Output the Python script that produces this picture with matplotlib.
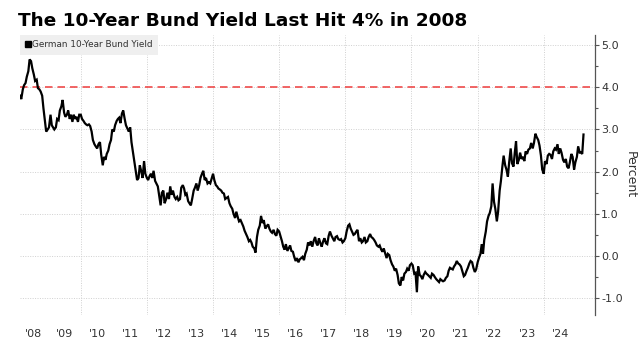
import matplotlib
matplotlib.use("Agg")
import matplotlib.pyplot as plt
import matplotlib.dates as mdates
import pandas as pd
import numpy as np

# German 10-year Bund yield, sampled on the 1st and 15th of each month (percent)
yield_2008 = [3.80, 3.72, 3.95, 4.05, 4.10, 4.25, 4.38, 4.66, 4.62, 4.45,
              4.30, 4.15, 4.18, 3.98, 3.95, 3.90, 3.80, 3.50, 3.20, 2.95]
yield_2009 = [3.00, 3.05, 3.35, 3.10, 3.05, 3.00, 3.05, 3.25, 3.22, 3.45, 3.55, 3.70,
              3.40, 3.30, 3.35, 3.45, 3.25, 3.35, 3.18, 3.35, 3.25, 3.30, 3.18, 3.35]
yield_2010 = [3.35, 3.25, 3.20, 3.15, 3.12, 3.10, 3.12, 3.08, 2.95, 2.75, 2.65, 2.60,
              2.55, 2.65, 2.70, 2.40, 2.15, 2.35, 2.28, 2.42, 2.50, 2.65, 2.75, 3.00]
yield_2011 = [2.95, 3.10, 3.20, 3.25, 3.28, 3.15, 3.38, 3.45, 3.25, 3.10, 3.02, 2.95,
              3.05, 2.70, 2.45, 2.25, 2.00, 1.80, 1.85, 2.15, 2.00, 1.85, 2.25, 1.95]
yield_2012 = [1.85, 1.80, 1.90, 1.95, 1.85, 2.02, 1.78, 1.72, 1.65, 1.45, 1.20, 1.50,
              1.55, 1.25, 1.35, 1.50, 1.35, 1.65, 1.45, 1.55, 1.40, 1.35, 1.40, 1.32]
yield_2013 = [1.35, 1.62, 1.68, 1.60, 1.45, 1.48, 1.30, 1.25, 1.20, 1.35, 1.55, 1.62,
              1.72, 1.55, 1.68, 1.85, 1.95, 2.02, 1.80, 1.85, 1.72, 1.75, 1.72, 1.82]
yield_2014 = [1.95, 1.80, 1.68, 1.65, 1.60, 1.58, 1.55, 1.50, 1.48, 1.35, 1.38, 1.40,
              1.25, 1.18, 1.12, 1.00, 0.90, 1.05, 0.92, 0.82, 0.85, 0.78, 0.70, 0.60]
yield_2015 = [0.52, 0.45, 0.35, 0.38, 0.32, 0.22, 0.18, 0.08, 0.45, 0.62, 0.72, 0.95,
              0.78, 0.85, 0.65, 0.70, 0.75, 0.65, 0.58, 0.55, 0.62, 0.52, 0.48, 0.62]
yield_2016 = [0.58, 0.48, 0.35, 0.22, 0.15, 0.28, 0.12, 0.18, 0.25, 0.12, 0.10, -0.02,
              -0.12, -0.05, -0.15, -0.08, -0.05, -0.02, -0.10, 0.05, 0.15, 0.32, 0.25, 0.35]
yield_2017 = [0.22, 0.35, 0.45, 0.30, 0.25, 0.42, 0.30, 0.22, 0.35, 0.42, 0.30, 0.28,
              0.48, 0.58, 0.48, 0.42, 0.35, 0.45, 0.47, 0.40, 0.38, 0.40, 0.32, 0.35]
yield_2018 = [0.42, 0.58, 0.72, 0.75, 0.65, 0.58, 0.50, 0.52, 0.58, 0.62, 0.35, 0.42,
              0.32, 0.35, 0.45, 0.32, 0.35, 0.45, 0.52, 0.45, 0.42, 0.38, 0.32, 0.25]
yield_2019 = [0.22, 0.25, 0.15, 0.10, 0.18, 0.08, -0.05, 0.05, 0.02, -0.10, -0.20, -0.25,
              -0.35, -0.30, -0.45, -0.65, -0.70, -0.50, -0.58, -0.42, -0.38, -0.30, -0.35, -0.22]
yield_2020 = [-0.18, -0.22, -0.42, -0.40, -0.86, -0.25, -0.45, -0.48, -0.55, -0.45, -0.38, -0.42,
              -0.45, -0.48, -0.52, -0.42, -0.45, -0.50, -0.55, -0.58, -0.62, -0.55, -0.58, -0.60]
yield_2021 = [-0.58, -0.52, -0.48, -0.35, -0.28, -0.30, -0.32, -0.25, -0.20, -0.12, -0.18, -0.20,
              -0.25, -0.35, -0.48, -0.45, -0.35, -0.28, -0.18, -0.12, -0.15, -0.28, -0.38, -0.32]
yield_2022 = [-0.15, -0.05, 0.05, 0.28, 0.05, 0.38, 0.58, 0.82, 0.95, 1.02, 1.18, 1.72,
              1.28, 1.12, 0.82, 1.05, 1.55, 1.78, 2.12, 2.38, 2.15, 2.05, 1.88, 2.22]
yield_2023 = [2.55, 2.20, 2.12, 2.45, 2.72, 2.18, 2.28, 2.45, 2.30, 2.35, 2.25, 2.48,
              2.42, 2.52, 2.55, 2.68, 2.55, 2.68, 2.90, 2.82, 2.75, 2.62, 2.38, 2.05]
yield_2024 = [1.95, 2.25, 2.18, 2.38, 2.42, 2.40, 2.30, 2.48, 2.55, 2.52, 2.65, 2.42,
              2.55, 2.45, 2.28, 2.22, 2.30, 2.12, 2.08, 2.22, 2.42, 2.35, 2.05, 2.22]
yield_2025 = [2.35, 2.60, 2.45, 2.45, 2.42, 2.88]

yields = (yield_2008 + yield_2009 + yield_2010 + yield_2011 + yield_2012 + yield_2013
          + yield_2014 + yield_2015 + yield_2016 + yield_2017 + yield_2018 + yield_2019
          + yield_2020 + yield_2021 + yield_2022 + yield_2023 + yield_2024 + yield_2025)
dates = pd.date_range("2008-03-01", periods=len(yields), freq="SMS")

year_labels = ["'08", "'09", "'10", "'11", "'12", "'13", "'14", "'15", "'16",
               "'17", "'18", "'19", "'20", "'21", "'22", "'23", "'24"]
threshold = 4.0
series_name = "German 10-Year Bund Yield"
title_text = "The 10-Year Bund Yield Last Hit 4% in 2008"

fig = plt.figure(figsize=(6.4, 3.41), dpi=100)
ax = fig.add_axes([20 / 640, 1 - 315 / 341, 575 / 640, 280 / 341])

x = mdates.date2num(dates)
ax.plot(x, yields, color="black", lw=1.6, solid_joinstyle="miter", zorder=3)
ax.axhline(threshold, color="#ef4b4b", lw=1.2, ls=(0, (4.5, 3)), zorder=2)

xmin = x[0]
xmax = mdates.date2num(pd.Timestamp("2025-07-20"))
ax.set_xlim(xmin, xmax)
ax.set_ylim(-1.4, 5.24)

# year labels at mid-year, the first one centred on its visible part
first_year_end = mdates.date2num(pd.Timestamp("2009-01-01"))
label_pos = [(xmin + first_year_end) / 2] + [
    mdates.date2num(pd.Timestamp(f"{y}-07-01")) for y in range(2009, 2025)]
ax.set_xticks(label_pos)
ax.set_xticklabels(year_labels)
ax.set_xticks([mdates.date2num(pd.Timestamp(f"{y}-01-01")) for y in range(2010, 2025, 2)],
              minor=True)
ax.tick_params(axis="x", which="both", length=0, pad=10, labelsize=8, labelcolor="#333333")

ax.yaxis.tick_right()
ax.yaxis.set_label_position("right")
ax.set_yticks(np.arange(-1, 5.01, 1))
ax.set_yticklabels([f"{v:.1f}" for v in np.arange(-1, 5.01, 1)])
ax.set_yticks(np.arange(-0.5, 5.01, 1), minor=True)
ax.tick_params(axis="y", which="major", length=3, width=0.8, color="#555555",
               pad=1.5, labelsize=8, labelcolor="#333333")
ax.tick_params(axis="y", which="minor", length=2, width=0.8, color="#555555")
ax.set_ylabel("Percent", rotation=270, labelpad=10, fontsize=9, color="#333333")

for side in ("left", "top", "bottom"):
    ax.spines[side].set_visible(False)
ax.spines["right"].set_color("#555555")
ax.spines["right"].set_linewidth(0.9)

ax.grid(axis="y", which="major", color="#d0d0d0", lw=0.7, ls=(0, (1, 1.5)))
ax.grid(axis="x", which="minor", color="#d0d0d0", lw=0.7, ls=(0, (1, 1.5)))
ax.grid(axis="x", which="major", visible=False)

leg = ax.legend([plt.Line2D([], [], marker="s", color="black", ls="none", markersize=5)],
                [series_name], loc="upper left", bbox_to_anchor=(0, 1), frameon=True,
                fontsize=6.4, handlelength=0.6, handletextpad=0.2, borderpad=0.6,
                borderaxespad=0, fancybox=False)
leg.get_frame().set_facecolor("#efefef")
leg.get_frame().set_edgecolor("none")
leg.get_frame().set_alpha(1)
for t in leg.get_texts():
    t.set_color("#333333")

fig.text(18 / 640, 1 - 21 / 341, title_text, fontsize=13.3, fontweight="bold",
         ha="left", va="center", color="black")

fig.savefig("out.png", dpi=100, facecolor="white")
